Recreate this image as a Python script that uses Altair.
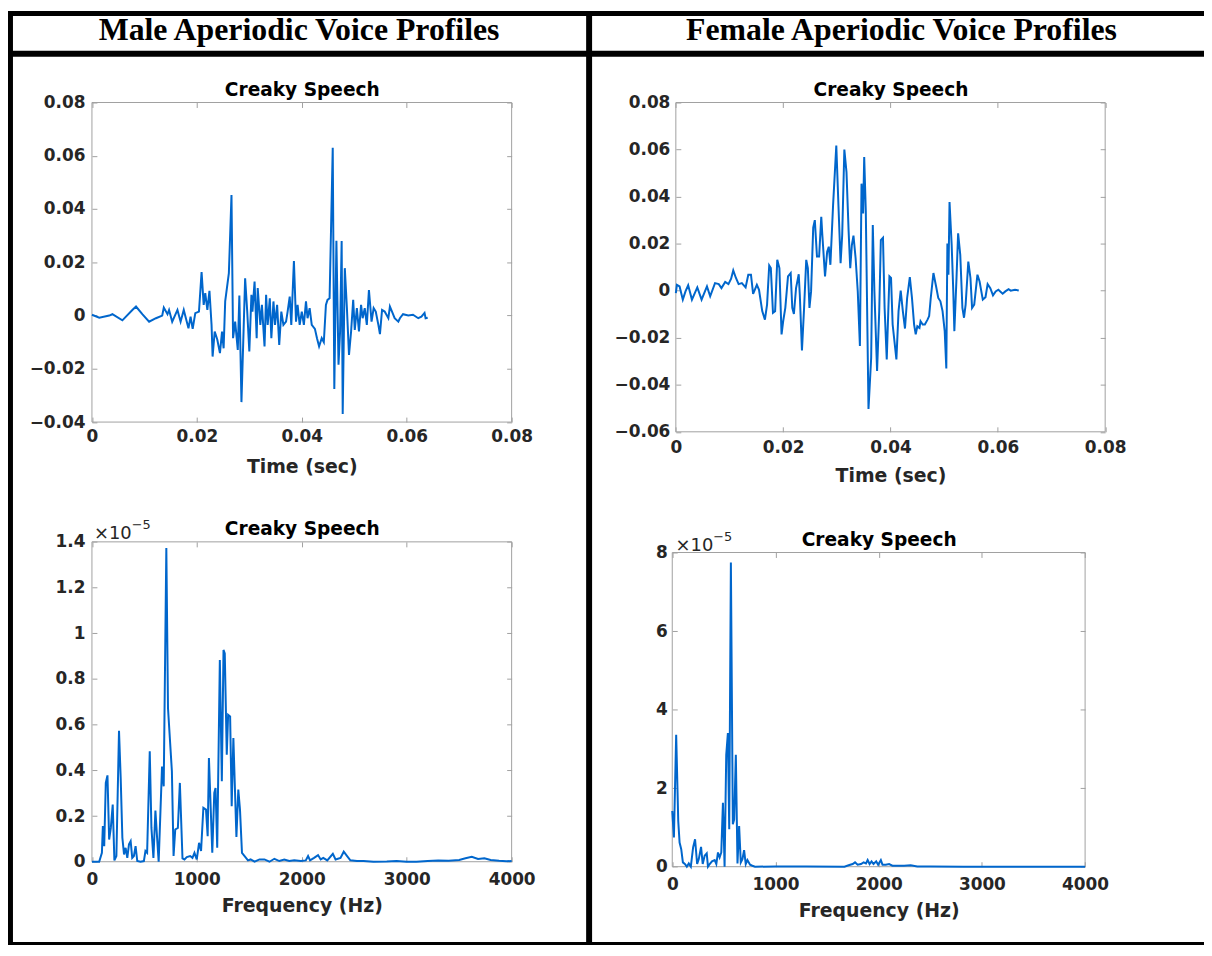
import altair as alt
import pandas as pd

# ---------------- data ----------------
male_time = [0.0000, 0.0014, 0.0033, 0.0039, 0.0058, 0.0077, 0.0084, 0.0096, 0.0109, 0.0122,
             0.0134, 0.0137, 0.0144, 0.0147, 0.0153, 0.0163, 0.0169, 0.0175, 0.0184, 0.0188,
             0.0192, 0.0197, 0.0204, 0.0209, 0.0213, 0.0216, 0.0220, 0.0224, 0.0228, 0.0230,
             0.0234, 0.0239, 0.0244, 0.0248, 0.0251, 0.0254, 0.0261, 0.0266, 0.0269, 0.0273,
             0.0278, 0.0281, 0.0285, 0.0289, 0.0292, 0.0296, 0.0300, 0.0304, 0.0306, 0.0310,
             0.0314, 0.0316, 0.0321, 0.0324, 0.0329, 0.0332, 0.0335, 0.0339, 0.0342, 0.0346,
             0.0349, 0.0353, 0.0357, 0.0361, 0.0365, 0.0370, 0.0373, 0.0377, 0.0380, 0.0385,
             0.0389, 0.0392, 0.0396, 0.0400, 0.0404, 0.0408, 0.0411, 0.0415, 0.0419, 0.0425,
             0.0429, 0.0433, 0.0438, 0.0442, 0.0446, 0.0449, 0.0453, 0.0459, 0.0462, 0.0466,
             0.0470, 0.0473, 0.0476, 0.0478, 0.0482, 0.0486, 0.0490, 0.0494, 0.0498, 0.0501,
             0.0505, 0.0509, 0.0513, 0.0516, 0.0520, 0.0524, 0.0528, 0.0533, 0.0537, 0.0541,
             0.0546, 0.0549, 0.0553, 0.0558, 0.0565, 0.0568, 0.0572, 0.0577, 0.0584, 0.0587,
             0.0593, 0.0603, 0.0612, 0.0622, 0.0628, 0.0634, 0.0636, 0.0640]
male_amp = [0.0003, -0.0008, 0.0000, 0.0005, -0.0018, 0.0021, 0.0034, 0.0005, -0.0023, -0.0010,
            0.0000, 0.0030, 0.0005, 0.0021, -0.0023, 0.0021, -0.0023, 0.0021, -0.0048, -0.0004,
            -0.0050, 0.0009, 0.0015, 0.0163, 0.0040, 0.0084, 0.0021, 0.0093, -0.0035, -0.0154,
            -0.0060, -0.0091, -0.0141, -0.0060, -0.0123, 0.0053, 0.0159, 0.0453, -0.0085, -0.0023,
            -0.0129, 0.0075, -0.0325, -0.0060, 0.0140, 0.0015, -0.0135, 0.0078, 0.0015, 0.0128,
            -0.0085, 0.0103, -0.0035, 0.0040, -0.0116, 0.0078, -0.0035, 0.0065, -0.0085, 0.0053,
            -0.0035, 0.0040, -0.0110, 0.0015, -0.0035, -0.0023, 0.0015, 0.0071, -0.0035, 0.0205,
            -0.0023, 0.0040, -0.0035, 0.0015, -0.0035, 0.0053, -0.0010, 0.0028, -0.0035, -0.0050,
            -0.0085, -0.0116, -0.0085, -0.0100, 0.0040, 0.0059, 0.0065, 0.0630, -0.0276, 0.0281,
            -0.0185, -0.0060, 0.0280, -0.0370, 0.0178, 0.0028, -0.0148, -0.0060, 0.0059, -0.0054,
            0.0028, -0.0060, 0.0040, -0.0010, 0.0028, -0.0035, 0.0096, -0.0023, 0.0028, 0.0015,
            -0.0035, -0.0070, 0.0021, 0.0015, -0.0010, 0.0034, 0.0015, -0.0010, -0.0023, -0.0010,
            0.0005, 0.0000, 0.0003, -0.0010, -0.0004, 0.0010, -0.0010, -0.0008]

female_time = [0.0000, 0.0002, 0.0007, 0.0013, 0.0018, 0.0023, 0.0030, 0.0040, 0.0048, 0.0058,
               0.0064, 0.0073, 0.0080, 0.0085, 0.0092, 0.0098, 0.0103, 0.0107, 0.0112, 0.0117,
               0.0123, 0.0130, 0.0135, 0.0140, 0.0144, 0.0151, 0.0155, 0.0161, 0.0166, 0.0170,
               0.0174, 0.0177, 0.0181, 0.0185, 0.0189, 0.0193, 0.0197, 0.0200, 0.0204, 0.0209,
               0.0214, 0.0217, 0.0220, 0.0224, 0.0229, 0.0231, 0.0235, 0.0239, 0.0243, 0.0246,
               0.0249, 0.0252, 0.0256, 0.0259, 0.0263, 0.0267, 0.0271, 0.0273, 0.0278, 0.0282,
               0.0285, 0.0288, 0.0293, 0.0299, 0.0303, 0.0307, 0.0310, 0.0314, 0.0318, 0.0322,
               0.0325, 0.0328, 0.0331, 0.0335, 0.0339, 0.0343, 0.0346, 0.0349, 0.0351, 0.0354,
               0.0359, 0.0364, 0.0367, 0.0370, 0.0375, 0.0379, 0.0382, 0.0386, 0.0389, 0.0393,
               0.0398, 0.0401, 0.0404, 0.0411, 0.0415, 0.0419, 0.0423, 0.0427, 0.0431, 0.0436,
               0.0440, 0.0444, 0.0447, 0.0450, 0.0454, 0.0456, 0.0460, 0.0464, 0.0469, 0.0472,
               0.0475, 0.0480, 0.0485, 0.0489, 0.0493, 0.0497, 0.0501, 0.0504, 0.0506, 0.0508,
               0.0510, 0.0514, 0.0517, 0.0519, 0.0523, 0.0526, 0.0530, 0.0534, 0.0537, 0.0540,
               0.0545, 0.0549, 0.0552, 0.0556, 0.0562, 0.0566, 0.0572, 0.0577, 0.0581, 0.0586,
               0.0591, 0.0596, 0.0601, 0.0609, 0.0614, 0.0620, 0.0624, 0.0632, 0.0639]
female_amp = [-0.0010, 0.0025, 0.0018, -0.0038, -0.0003, 0.0023, -0.0038, 0.0014, -0.0038, 0.0018,
              -0.0024, 0.0032, 0.0028, 0.0011, 0.0037, 0.0028, 0.0051, 0.0086, 0.0054, 0.0028,
              0.0032, 0.0014, 0.0068, 0.0068, -0.0014, 0.0025, 0.0004, -0.0087, -0.0123, -0.0059,
              0.0107, 0.0096, -0.0094, -0.0087, 0.0131, 0.0096, -0.0186, -0.0130, -0.0073, 0.0061,
              0.0075, -0.0073, -0.0099, 0.0011, 0.0070, -0.0017, -0.0254, -0.0073, 0.0131, 0.0096,
              -0.0073, -0.0003, 0.0268, 0.0300, 0.0145, 0.0145, 0.0314, 0.0237, 0.0061, 0.0166,
              0.0187, 0.0110, 0.0363, 0.0617, 0.0363, 0.0117, 0.0237, 0.0600, 0.0504, 0.0251,
              0.0096, 0.0194, 0.0234, 0.0138, -0.0003, -0.0235, 0.0455, 0.0328, 0.0568, 0.0335,
              -0.0503, -0.0285, 0.0279, -0.0003, -0.0341, -0.0087, 0.0215, 0.0225, -0.0073, -0.0292,
              0.0061, 0.0054, -0.0144, -0.0292, -0.0087, 0.0000, -0.0087, -0.0161, -0.0031, 0.0058,
              -0.0031, -0.0144, -0.0186, -0.0151, -0.0158, -0.0130, -0.0144, -0.0144, -0.0123, -0.0108,
              -0.0031, 0.0075, 0.0018, -0.0031, -0.0045, -0.0087, -0.0172, -0.0331, 0.0201, 0.0068,
              0.0377, 0.0194, -0.0003, -0.0172, 0.0054, 0.0244, 0.0152, -0.0073, -0.0115, -0.0059,
              0.0124, 0.0054, -0.0073, -0.0059, 0.0068, 0.0039, -0.0038, -0.0028, 0.0028, 0.0011,
              -0.0020, -0.0003, 0.0004, -0.0013, -0.0003, 0.0006, 0.0000, 0.0004, 0.0001]

# spectra, magnitude in units of 1e-5
male_freq = [0, 69, 95, 104, 117, 132, 148, 164, 180, 198, 214, 233, 258, 274, 290, 306, 321, 337,
             353, 369, 384, 400, 416, 432, 463, 495, 510, 526, 551, 567, 586, 605, 621, 636, 668,
             684, 709, 725, 762, 778, 794, 819, 838, 863, 882, 904, 936, 958, 977, 999, 1021, 1040,
             1062, 1087, 1103, 1115, 1147, 1166, 1178, 1194, 1219, 1238, 1254, 1266, 1285, 1298,
             1317, 1332, 1348, 1377, 1395, 1411, 1430, 1455, 1487, 1512, 1550, 1597, 1644, 1692,
             1739, 1786, 1833, 1881, 1928, 1991, 2038, 2060, 2079, 2117, 2155, 2180, 2205, 2243,
             2296, 2322, 2369, 2400, 2432, 2463, 2526, 2589, 2684, 2810, 2904, 2999, 3093, 3200,
             3300, 3400, 3500, 3560, 3620, 3680, 3740, 3800, 3880, 3950, 4000]
male_mag = [0, 0, 0.039, 0.156, 0.068, 0.345, 0.378, 0.097, 0.148, 0.25, 0.006, 0.025, 0.573,
            0.367, 0.105, 0.032, 0.061, 0.017, 0.076, 0.09, 0.017, 0.025, 0.068, 0.003, 0, 0.003,
            0.047, 0.039, 0.483, 0.148, 0.017, 0.224, 0.105, 0, 0.417, 0.33, 1.373, 0.672, 0.396,
            0.025, 0.141, 0.148, 0.345, 0.015, 0.01, 0.02, 0.025, 0.017, 0.039, 0.01, 0.083, 0.047,
            0.236, 0.228, 0.112, 0.454, 0.039, 0.301, 0.323, 0.061, 0.883, 0.352, 0.927, 0.912,
            0.468, 0.643, 0.636, 0.243, 0.541, 0.108, 0.316, 0.228, 0.039, 0.025, 0.006, 0.01, 0,
            0.01, 0.01, 0, 0.013, 0.003, 0.01, 0.003, 0.006, 0.003, 0.006, 0.025, 0.006, 0.017,
            0.029, 0.01, 0.017, 0.006, 0.035, 0.01, 0.017, 0.044, 0.025, 0.006, 0.003, 0.003, 0,
            0.001, 0.003, 0, 0, 0.003, 0.005, 0.004, 0.008, 0.015, 0.022, 0.012, 0.015, 0.008,
            0.004, 0.002, 0.003]

female_freq = [0, 16, 38, 58, 71, 87, 103, 122, 141, 160, 180, 202, 221, 241, 257, 279, 295, 314,
               334, 346, 363, 385, 411, 427, 443, 459, 475, 491, 507, 523, 539, 552, 568, 587, 600,
               616, 632, 648, 664, 680, 696, 712, 728, 754, 776, 802, 1000, 1300, 1668, 1716, 1748,
               1771, 1796, 1829, 1854, 1877, 1893, 1912, 1931, 1950, 1976, 1995, 2021, 2037, 2069,
               2101, 2133, 2181, 2246, 2310, 2374, 2502, 2823, 3144, 3465, 3785, 4000]
female_mag = [1.418, 0.743, 3.359, 1.165, 0.616, 0.447, 0.11, 0.068, 0, 0.084, 0, 0.489, 0.70,
              0.068, 0.194, 0.506, 0.068, 0.278, 0.338, 0, 0.068, 0.135, 0.169, 0.068, 0.363,
              0.236, 0.363, 1.629, 0, 2.852, 3.401, 0.954, 7.747, 1.08, 1.207, 2.852, 0.084, 1.038,
              0.11, 0.194, 0.422, 0.068, 0.169, 0.051, 0.025, 0, 0.005, 0.003, 0, 0.042, 0.068,
              0.11, 0.051, 0.068, 0.11, 0.084, 0.169, 0.068, 0.135, 0.068, 0.135, 0.051, 0.169,
              0.051, 0.051, 0.068, 0.025, 0.025, 0.025, 0.034, 0.008, 0.008, 0, 0, 0, 0, 0]

time_ticks = [0, 0.02, 0.04, 0.06, 0.08]
male_amp_ticks = [-0.04, -0.02, 0, 0.02, 0.04, 0.06, 0.08]
female_amp_ticks = [-0.06, -0.04, -0.02, 0, 0.02, 0.04, 0.06, 0.08]
freq_ticks = [0, 1000, 2000, 3000, 4000]
male_mag_ticks = [0, 0.2, 0.4, 0.6, 0.8, 1.0, 1.2, 1.4]
female_mag_ticks = [0, 2, 4, 6, 8]

headers = ["Male Aperiodic Voice Profiles", "Female Aperiodic Voice Profiles"]
panel_title = "Creaky Speech"
time_title = "Time (sec)"
freq_title = "Frequency (Hz)"
exp_base = "\u00d710"
exp_power = "\u22125"

# ---------------- layout / style ----------------
W, H = 1204, 940
TK = 5
BLUE = "#0066cc"
BOX = "#a0a0a0"
TXT = "#262626"
SANS = "DejaVu Sans"
SERIF = "Liberation Serif"

panels = [
    dict(x=male_time, y=male_amp, xdom=[0, 0.08], ydom=[-0.04, 0.08], xr=[84.5, 507.0], yr=[413.7, 92.0],
         xt=time_ticks, yt=male_amp_ticks, xf=".2~f", yf=".2~f", xtitle=time_title, lpx=7, lpy=7),
    dict(x=female_time, y=female_amp, xdom=[0, 0.08], ydom=[-0.06, 0.08], xr=[672.3, 1104.5], yr=[423.5, 92.0],
         xt=time_ticks, yt=female_amp_ticks, xf=".2~f", yf=".2~f", xtitle=time_title, lpx=8, lpy=6),
    dict(x=male_freq, y=male_mag, xdom=[0, 4000], ydom=[0, 1.4], xr=[84.5, 507.0], yr=[856.3, 534.3],
         xt=freq_ticks, yt=male_mag_ticks, xf="d", yf=".1~f", xtitle=freq_title, lpx=10, lpy=7),
    dict(x=female_freq, y=female_mag, xdom=[0, 4000], ydom=[0, 8], xr=[668.7, 1084.3], yr=[861.3, 545.0],
         xt=freq_ticks, yt=female_mag_ticks, xf="d", yf="d", xtitle=freq_title, lpx=10, lpy=5),
]

layers = []
for p in panels:
    xs = alt.Scale(domain=p["xdom"], range=p["xr"], nice=False, zero=False)
    ys = alt.Scale(domain=p["ydom"], range=p["yr"], nice=False, zero=False)
    left, right = p["xr"]
    bottom, top = p["yr"]
    df = pd.DataFrame({"x": p["x"], "y": p["y"]})
    box = pd.DataFrame({"x0": [p["xdom"][0]], "x1": [p["xdom"][1]],
                        "y0": [p["ydom"][0]], "y1": [p["ydom"][1]]})
    frame = alt.Chart(box).mark_rect(fillOpacity=0, stroke=BOX, strokeWidth=1).encode(
        x=alt.X("x0:Q", scale=xs, axis=alt.Axis(
            orient="top", offset=-(top + TK), values=p["xt"], labels=False, domain=False,
            grid=False, tickSize=TK, title=panel_title, titleY=-12, titleBaseline="alphabetic",
            titleColor="#000000", titleFontSize=18.7)),
        x2="x1:Q",
        y=alt.Y("y0:Q", scale=ys, axis=alt.Axis(
            orient="right", offset=(right - TK) - W, values=p["yt"], labels=False, domain=False,
            grid=False, tickSize=TK, title=None)),
        y2="y1:Q",
    )
    line = alt.Chart(df).mark_line(color=BLUE, strokeWidth=2).encode(
        x=alt.X("x:Q", scale=xs, axis=alt.Axis(
            orient="bottom", offset=(bottom - TK) - H, values=p["xt"], format=p["xf"],
            domain=False, grid=False, tickSize=TK, labelPadding=p["lpx"], labelFlush=False,
            labelOverlap=False, title=p["xtitle"], titleY=55.5, titleBaseline="alphabetic",
            titleFontSize=19)),
        y=alt.Y("y:Q", scale=ys, axis=alt.Axis(
            orient="left", offset=-(left + TK), values=p["yt"], format=p["yf"],
            domain=False, grid=False, tickSize=TK, labelPadding=p["lpy"], labelFlush=False,
            labelOverlap=False, title=None)),
    )
    layers += [frame, line]

deco = pd.DataFrame({"k": [0]})


def rule(x, x2, y, y2, w):
    return alt.Chart(deco).mark_rule(color="black", strokeWidth=w).encode(
        x=alt.value(x), x2=alt.value(x2), y=alt.value(y), y2=alt.value(y2))


def label(txt, x, y, size, font, weight="normal", align="center", color=TXT):
    return alt.Chart(deco).mark_text(
        text=txt, font=font, fontSize=size, fontWeight=weight, align=align,
        baseline="alphabetic", color=color).encode(x=alt.value(x), y=alt.value(y))


layers += [
    rule(0, W, 2.5, 2.5, 5),
    rule(0, W, 43, 43, 6),
    rule(2.5, 2.5, 0, H, 5),
    rule(585, 585, 0, H, 6),
    rule(0, W, H - 1.5, H - 1.5, 3),
    label(headers[0], 293, 29.5, 32, SERIF, "bold", color="#000000"),
    label(headers[1], 899.5, 29.5, 32, SERIF, "bold", color="#000000"),
    label(exp_base, 86.5, 531, 18, SANS, align="left"),
    label(exp_power, 124.5, 521.5, 13, SANS, align="left"),
    label(exp_base, 672, 543, 18, SANS, align="left"),
    label(exp_power, 710, 533.5, 13, SANS, align="left"),
]

chart = alt.layer(*layers).resolve_scale(
    x="independent", y="independent"
).resolve_axis(
    x="independent", y="independent"
).properties(
    width=W, height=H, autosize=alt.AutoSizeParams(type="none"), padding=0
).configure_view(
    strokeWidth=0
).configure_axis(
    labelFont=SANS, labelFontSize=17, labelFontWeight="bold", labelColor=TXT,
    titleFont=SANS, titleFontSize=19, titleFontWeight="bold", titleColor=TXT,
    tickColor=BOX, tickWidth=1
)

chart.save("out.html", embed_options={"renderer": "svg", "actions": False})
